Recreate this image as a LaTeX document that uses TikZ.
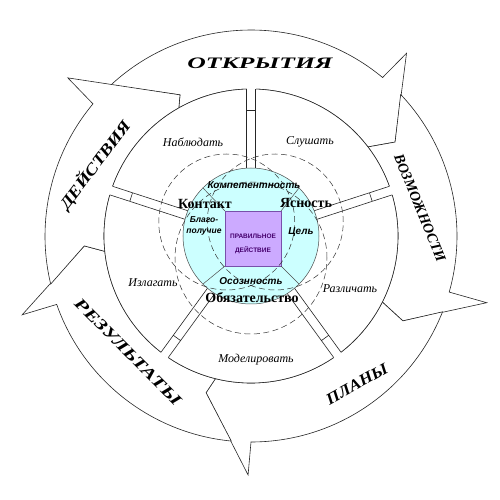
\documentclass[tikz,border=0pt]{standalone}
\usepackage{fontspec}
\setmainfont{Liberation Serif}
\setsansfont{Liberation Sans}
\definecolor{corecyan}{RGB}{204,255,255}
\definecolor{actlav}{RGB}{204,170,255}
\definecolor{actframe}{RGB}{120,80,170}
\definecolor{acttext}{RGB}{70,0,110}
\begin{document}
\begin{tikzpicture}[x=1pt, y=1pt,
	band/.style={draw=black!85, fill=white, line width=0.6pt},
	outerlabel/.style={font=\fontsize{16}{16}\selectfont\bfseries\itshape},
	sectorlabel/.style={font=\fontsize{12}{12}\selectfont\itshape},
	corelabel/.style={font=\fontsize{14}{14}\selectfont\bfseries},
	innerlabel/.style={font=\fontsize{10}{10}\selectfont\sffamily\bfseries\itshape},
	venn/.style={dash pattern=on 6pt off 3.5pt, line width=0.5pt, draw=black!80}]
	\useasboundingbox (-251, -264) rectangle (249, 236);
	% outer cycle of arrows
	\draw [band] (132.9:206) -- (116.7:158) -- (119.4:147) arc [start angle=119.4, end angle=37.3, radius=147]
		-- (33.1:172) -- (49.6:240) -- (50.3:206) arc [start angle=50.3, end angle=132.9, radius=206] -- cycle;
	\draw [band] (43.4:206) -- (33.1:172) -- (37.3:147) arc [start angle=37.3, end angle=-26.7, radius=147]
		-- (-29.2:174) -- (-15.8:245) -- (-15.8:206) arc [start angle=-15.8, end angle=43.4, radius=206] -- cycle;
	\draw [band] (-21.6:206) -- (-29.2:174) -- (-26.7:147) arc [start angle=-26.7, end angle=-104, radius=147]
		-- (-106:163) -- (-90.7:239) -- (-90:206) arc [start angle=-90, end angle=-21.6, radius=206] -- cycle;
	\draw [band] (-95.5:206) -- (-106:163) -- (-104:147) arc [start angle=-104, end angle=-174, radius=147]
		-- (-176.6:167) -- (-161:242) -- (-160.6:206) arc [start angle=-160.6, end angle=-95.5, radius=206] -- cycle;
	\draw [band] (193.5:206) -- (183.4:167) -- (186:147) arc [start angle=186, end angle=119.4, radius=147]
		-- (116.7:158) -- (139.2:242) -- (140.1:206) arc [start angle=140.1, end angle=193.5, radius=206] -- cycle;
	% middle ring and spokes
	\draw [band] (0, 0) circle [radius=147];
	\foreach \a in {90, 18, -54, -126, 162} {
		\fill [white, rotate=\a] (66, -4.5) rectangle (148, 4.5);
		\draw [line width=0.6pt, draw=black!85, rotate=\a] (66, -4.5) -- (147, -4.5) (66, 4.5) -- (147, 4.5) (126, -4.5) -- (126, 4.5);
	}
	% core
	\draw [fill=corecyan, draw=black!70, line width=0.5pt] (0, 0) circle [radius=68];
	\draw [fill=actlav, draw=actframe, line width=0.6pt] (-26, -30) rectangle (30, 25);
	\draw [line width=0.5pt, draw=black!70] (-26, 25) -- (135:68) (30, 25) -- (45:68) (-26, -30) -- (225:68) (30, -30) -- (-45:68);
	\draw [venn] (150:28) circle [radius=68] (30:28) circle [radius=68] (0, -22) circle [radius=76];
	% labels
	\node [outerlabel, xscale=1.6] (otkr) at (9, 173) {ОТКРЫТИЯ};
	\node [outerlabel, font=\fontsize{14.5}{14.5}\selectfont\bfseries\itshape, rotate=-67.6] (vozm) at (169, 28) {ВОЗМОЖНОСТИ};
	\node [outerlabel, rotate=29, xscale=1.1] (plany) at (106, -148) {ПЛАНЫ};
	\node [outerlabel, rotate=-45, xscale=1.4] (rezul) at (-123, -116) {РЕЗУЛЬТАТЫ};
	\node [outerlabel, rotate=53, xscale=1.2] (deistv) at (-156, 71) {ДЕЙСТВИЯ};
	\node [sectorlabel] (nabl) at (-58, 94) {Наблюдать};
	\node [sectorlabel] (slush) at (59, 94) {Слушать};
	\node [sectorlabel] (razl) at (99, -53) {Различать};
	\node [sectorlabel] (model) at (5, -124) {Моделировать};
	\node [sectorlabel] (izlag) at (-98, -47) {Излагать};
	\node [innerlabel] (kompet) at (3, 51) {Компетентность};
	\node [corelabel] (kontakt) at (-46, 32) {Контакт};
	\node [corelabel] (yasn) at (55, 33) {Ясность};
	\node [innerlabel, font=\fontsize{8.5}{11}\selectfont\sffamily\bfseries\itshape, align=center] (blago) at (-47, 10) {Благо-\\получие};
	\node [innerlabel] (cel) at (50, 4) {Цель};
	\node [innerlabel] (osozn) at (0, -45) {Осознность};
	\node [corelabel] (obyaz) at (1, -62) {Обязательство};
	\node [font=\fontsize{6.5}{14}\selectfont\sffamily\bfseries, text=acttext, align=center] (pravd) at (2, -8) {ПРАВИЛЬНОЕ\\ДЕЙСТВИЕ};
\end{tikzpicture}
\end{document}
